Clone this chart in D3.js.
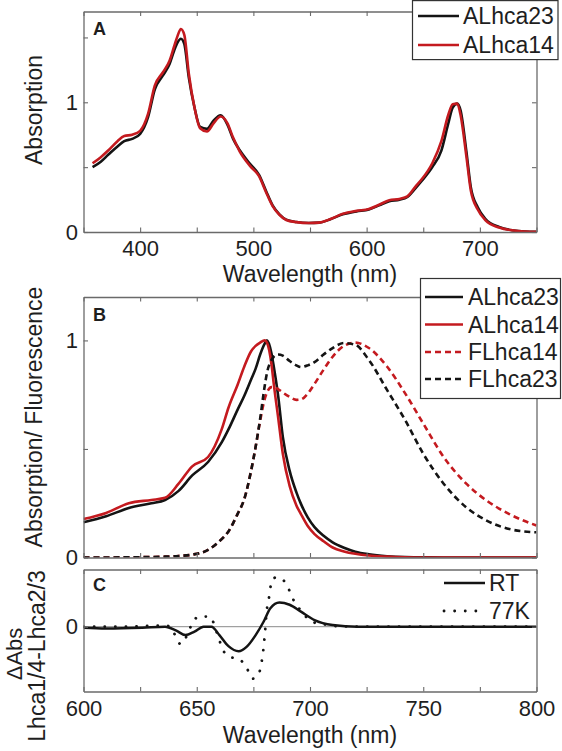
<!DOCTYPE html>
<html><head><meta charset="utf-8">
<script src="https://cdn.jsdelivr.net/npm/d3@7"></script>
<style>body{margin:0;background:#fff} svg{display:block}</style>
</head><body><svg id="c" width="562" height="751"></svg>
<script>
// ---------- Panel A data ----------
const wlA = [358,365,372,380,386,393,400,407,413,420,426,430,433,436,439,443,448,453,459,465,471,477,482,488,497,505,511,517,523,529,538,549,558,567,579,591,602,611,620,629,636,644,649,658,666,672,676,680,683,688,692,698,705,717,730,740,750];
const aLhca23 = [0.50,0.54,0.597,0.66,0.70,0.718,0.756,0.885,1.10,1.205,1.295,1.397,1.46,1.49,1.45,1.19,0.96,0.81,0.795,0.86,0.90,0.83,0.72,0.63,0.525,0.44,0.32,0.205,0.136,0.095,0.077,0.069,0.072,0.095,0.136,0.159,0.174,0.205,0.238,0.249,0.27,0.346,0.397,0.50,0.628,0.833,0.96,0.99,0.936,0.628,0.346,0.192,0.10,0.038,0.012,0.004,0.001];
const aLhca14 = [0.53,0.575,0.63,0.70,0.74,0.75,0.78,0.91,1.13,1.23,1.32,1.43,1.51,1.565,1.52,1.22,0.96,0.80,0.775,0.84,0.89,0.84,0.73,0.62,0.51,0.43,0.31,0.20,0.133,0.093,0.076,0.069,0.072,0.096,0.14,0.163,0.178,0.21,0.245,0.255,0.275,0.36,0.41,0.53,0.70,0.90,0.985,0.99,0.90,0.59,0.32,0.175,0.09,0.034,0.011,0.004,0.001];
const xTicksA = [350,400,450,500,550,600,650,700,750];
const xLabelsA = [400,500,600,700];
const yTicksA = [0,0.5,1,1.5];
const yLabelsA = [0,1];

// ---------- Panel B data ----------
const wlB = [600,610,620,630,636,642,648,655,661,664,668,671,674,676,678,680,681,683,684,686,688,691,694,696,699,702,706,710,715,720,726,734,742,750,759,769,778,788,800];
const bALhca23 = [0.162,0.19,0.228,0.25,0.265,0.307,0.378,0.44,0.53,0.59,0.68,0.745,0.82,0.87,0.935,0.985,1.0,0.94,0.88,0.74,0.556,0.40,0.30,0.247,0.185,0.14,0.10,0.07,0.045,0.027,0.015,0.006,0.002,0.001,0,0,0,0,0];
const bALhca14 = [0.177,0.205,0.25,0.265,0.275,0.34,0.42,0.463,0.59,0.69,0.795,0.88,0.95,0.975,0.99,1.0,0.99,0.89,0.80,0.64,0.478,0.33,0.24,0.20,0.145,0.108,0.075,0.046,0.028,0.017,0.009,0.004,0.001,0,0,0,0,0,0];
const bFLhca14 = [0,0,0.001,0.002,0.004,0.007,0.013,0.035,0.085,0.12,0.2,0.27,0.40,0.51,0.63,0.73,0.76,0.785,0.785,0.775,0.76,0.74,0.726,0.728,0.755,0.80,0.865,0.925,0.975,0.99,0.965,0.88,0.756,0.617,0.463,0.34,0.262,0.20,0.147];
const bFLhca23 = [0,0,0.001,0.002,0.004,0.007,0.013,0.035,0.085,0.12,0.2,0.27,0.40,0.51,0.64,0.79,0.85,0.91,0.925,0.935,0.93,0.905,0.885,0.877,0.885,0.90,0.935,0.965,0.988,0.98,0.91,0.772,0.633,0.478,0.34,0.231,0.17,0.131,0.116];
const xTicksB = [600,625,650,675,700,725,750,775,800];
const yTicksB = [0,0.5,1];
const yLabelsB = [0,1];

// ---------- Panel C data ----------
const wlRT = [600,610,626,636,641,645,649,653,656.5,660,664,668.5,672,676,679.5,682.5,686.5,691,696,702,710,721,740,800];
const cRT = [-0.0005,-0.0009,-0.0005,0,-0.0021,-0.0044,-0.0026,0,0,-0.0044,-0.0102,-0.0129,-0.0106,-0.0044,0.0026,0.0097,0.0127,0.0115,0.0079,0.0035,0.0009,0,0,0];
const wl77K = [600,620,630,636,638,640.2,642.9,645.5,647.7,650.8,655.6,659.5,661.1,664.3,668.3,672.2,674.6,677.3,678.5,679.3,680.1,680.9,681.7,683.3,685.5,688,690.9,692.8,696.4,700.7,705.5,712,725,800];
const c77K = [0,0,0.0005,0.0005,0.0002,-0.0039,-0.0092,-0.005,0.0009,0.0053,0.0053,-0.0053,-0.0109,-0.0159,-0.0167,-0.022,-0.0273,-0.025,-0.0194,-0.0132,-0.0035,0.0085,0.0138,0.0247,0.026,0.0247,0.019,0.0138,0.0079,0.0026,0.0014,0.0003,0,0];
const xTicksC = [600,625,650,675,700,725,750,775,800];
const xLabelsC = [600,650,700,750,800];
const yTicksC = [0];
const yLabelsC = [0];

// ---------- drawing ----------
const svg = d3.select("#c");
const FONT = '"Liberation Sans", Arial, Helvetica, sans-serif';
const BLACK = "#141414", RED = "#c41a1f", AX = "#6a6a6a", TXT = "#1e1e1e";
const X0 = 83.5, X1 = 536.5;

function makePanel(id, top, bottom, xd, yd) {
  const x = d3.scaleLinear().domain(xd).range([X0, X1]);
  const y = d3.scaleLinear().domain(yd).range([bottom, top]);
  svg.append("clipPath").attr("id", id).append("rect")
    .attr("x", X0).attr("y", top).attr("width", X1 - X0).attr("height", bottom - top);
  return {x, y, top, bottom, clip: `url(#${id})`};
}

function drawAxes(p, xt, xl, yt, yl) {
  const g = svg.append("g");
  const fmt = labels => d => labels.includes(d) ? String(d) : "";
  g.append("g").attr("transform", `translate(0,${p.bottom})`)
    .call(d3.axisBottom(p.x).tickValues(xt).tickSize(-4.5).tickSizeOuter(0).tickPadding(8.5).tickFormat(fmt(xl)));
  g.append("g").attr("transform", `translate(0,${p.top})`)
    .call(d3.axisTop(p.x).tickValues(xt).tickSize(-4.5).tickSizeOuter(0).tickFormat(""));
  g.append("g").attr("transform", `translate(${X0},0)`)
    .call(d3.axisLeft(p.y).tickValues(yt).tickSize(-4.5).tickSizeOuter(0).tickPadding(5.5).tickFormat(fmt(yl)));
  g.append("g").attr("transform", `translate(${X1},0)`)
    .call(d3.axisRight(p.y).tickValues(yt).tickSize(-4.5).tickSizeOuter(0).tickFormat(""));
  g.selectAll(".domain").attr("stroke", AX).attr("stroke-width", 1.3);
  g.selectAll(".tick line").attr("stroke", AX).attr("stroke-width", 1.1);
  g.selectAll(".tick text").attr("font-size", 22).attr("font-family", FONT).attr("fill", TXT);
}

function drawLine(p, xs, ys, color, dash, width) {
  const line = d3.line().x((d, i) => p.x(xs[i])).y(d => p.y(d)).curve(d3.curveMonotoneX);
  const path = svg.append("path").datum(ys).attr("d", line)
    .attr("fill", "none").attr("stroke", color).attr("stroke-width", width || 2.6)
    .attr("clip-path", p.clip).attr("stroke-linejoin", "round");
  if (dash) path.attr("stroke-dasharray", dash.arr).attr("stroke-linecap", dash.cap || "butt");
  return path;
}

function text(x, y, s, opts = {}) {
  const t = svg.append("text").attr("x", x).attr("y", y).text(s)
    .attr("font-family", FONT).attr("font-size", opts.size || 23).attr("fill", TXT);
  if (opts.anchor) t.attr("text-anchor", opts.anchor);
  if (opts.weight) t.attr("font-weight", opts.weight);
  if (opts.rotate) t.attr("transform", `rotate(-90,${x},${y})`);
  return t;
}

const DASH = {arr: "6 4"};
const DOT = {arr: "0.1 10.5", cap: "round"};

// Panel A
const pA = makePanel("clipA", 11.5, 232, [350, 750], [0, 1.7]);
drawLine(pA, wlA, aLhca23, BLACK);
drawLine(pA, wlA, aLhca14, RED);
drawAxes(pA, xTicksA, xLabelsA, yTicksA, yLabelsA);
text(93, 35, "A", {size: 18, weight: "bold"});
text(310, 282, "Wavelength (nm)", {anchor: "middle"});
text(42, 110, "Absorption", {anchor: "middle", rotate: true});

// Panel B
const pB = makePanel("clipB", 297, 557.5, [600, 800], [0, 1.2]);
drawLine(pB, wlB, bALhca23, BLACK);
drawLine(pB, wlB, bALhca14, RED);
drawLine(pB, wlB, bFLhca14, RED, DASH, 2.6);
drawLine(pB, wlB, bFLhca23, BLACK, DASH, 2.6);
drawAxes(pB, xTicksB, [], yTicksB, yLabelsB);
text(93, 321, "B", {size: 18, weight: "bold"});
text(42, 417, "Absorption/ Fluorescence", {anchor: "middle", rotate: true});

// Panel C
const pC = makePanel("clipC", 569.5, 691.5, [600, 800], [-0.034, 0.030]);
svg.append("line").attr("x1", X0).attr("x2", X1).attr("y1", pC.y(0)).attr("y2", pC.y(0))
  .attr("stroke", "#8a8a8a").attr("stroke-width", 1);
drawLine(pC, wl77K, c77K, BLACK, DOT, 2.8);
drawLine(pC, wlRT, cRT, BLACK, null, 2.5);
drawAxes(pC, xTicksC, xLabelsC, yTicksC, yLabelsC);
text(93, 590.5, "C", {size: 18, weight: "bold"});
text(310, 743, "Wavelength (nm)", {anchor: "middle"});
text(22, 654, "\u0394Abs", {anchor: "middle", rotate: true, size: 22});
text(45, 656, "Lhca1/4-Lhca2/3", {anchor: "middle", rotate: true});

// ---------- Legends ----------
function legend(box, rows, lx0, lx1, tx) {
  svg.append("rect").attr("x", box[0]).attr("y", box[1]).attr("width", box[2]).attr("height", box[3])
    .attr("fill", "#fff").attr("stroke", "#333").attr("stroke-width", 1.2);
  rows.forEach(r => {
    const l = svg.append("line").attr("x1", lx0).attr("x2", lx1).attr("y1", r.y).attr("y2", r.y)
      .attr("stroke", r.color).attr("stroke-width", r.w || 2.6);
    if (r.dash) l.attr("stroke-dasharray", r.dash.arr).attr("stroke-linecap", r.dash.cap || "butt");
    text(tx, r.y + 8, r.label);
  });
}
legend([412.5, 0.6, 145.5, 59], [
  {y: 16, color: BLACK, label: "ALhca23"},
  {y: 45, color: RED, label: "ALhca14"}
], 418, 459, 463);
legend([420.5, 278.5, 140, 120], [
  {y: 297, color: BLACK, label: "ALhca23"},
  {y: 324.5, color: RED, label: "ALhca14"},
  {y: 352, color: RED, label: "FLhca14", dash: DASH},
  {y: 379, color: BLACK, label: "FLhca23", dash: DASH}
], 425, 463, 468);
// panel C legend (no box)
[{y: 583, label: "RT", dash: null, w: 2.5}, {y: 611, label: "77K", dash: DOT, w: 2.8}].forEach(r => {
  const l = svg.append("line").attr("x1", 444).attr("x2", 485).attr("y1", r.y).attr("y2", r.y)
    .attr("stroke", BLACK).attr("stroke-width", r.w);
  if (r.dash) l.attr("stroke-dasharray", r.dash.arr).attr("stroke-linecap", r.dash.cap);
  text(489, r.y + 8, r.label);
});
</script>
</body></html>
